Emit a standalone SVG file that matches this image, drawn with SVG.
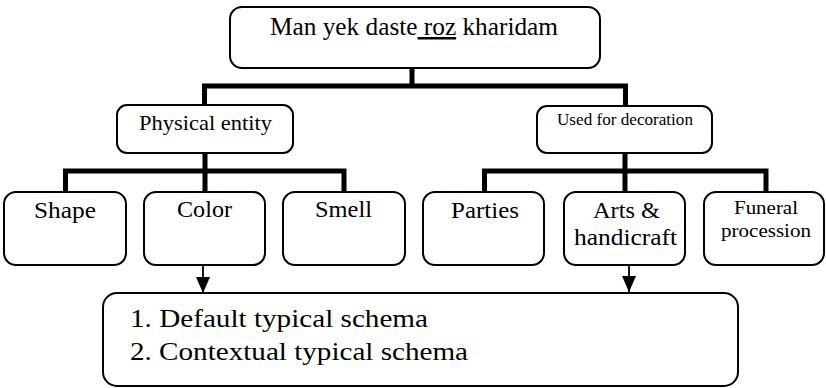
<svg xmlns="http://www.w3.org/2000/svg" width="826" height="388" viewBox="0 0 826 388">
<defs>
<marker id="arr" markerWidth="16" markerHeight="14" refX="16" refY="7" orient="auto" markerUnits="userSpaceOnUse" viewBox="0 0 16 14">
<path d="M0,0 L16,7 L0,14 Z" fill="#000"/>
</marker>
</defs>
<style>
.box{fill:#fff;stroke:#000;stroke-width:2}
.t{fill:#000;text-anchor:middle}
.bar{fill:none;stroke:#000;stroke-width:5;stroke-linejoin:miter;stroke-linecap:square}
.arrow{fill:none;stroke:#000;stroke-width:1.8}
</style>
<rect width="826" height="388" fill="#fff"/>
<g id="connectors">
<path class="bar" d="M412,68 V86 M204.5,86 H625.5 M204.5,86 V104 M625.5,86 V105"/>
<path class="bar" d="M205,153 V171 M65.5,171 H344 M65.5,171 V191 M205,171 V191 M344,171 V191"/>
<path class="bar" d="M625,153 V171 M484.5,171 H766 M484.5,171 V191 M625,171 V191 M766,171 V191"/>
<line class="arrow" x1="203" y1="265" x2="203" y2="293" marker-end="url(#arr)"/>
<line class="arrow" x1="629" y1="265" x2="629" y2="292" marker-end="url(#arr)"/>
</g>
<g font-family="'Liberation Serif', Tinos, 'Times New Roman', serif">
<g id="top">
<rect class="box" x="230" y="7" width="370" height="61" rx="12"/>
<text class="t" x="414" y="35" font-size="25" textLength="288" lengthAdjust="spacingAndGlyphs">Man yek daste<tspan text-decoration="underline"> roz</tspan> kharidam</text>
</g>
<g id="physical">
<rect class="box" x="117" y="105" width="176" height="48" rx="10"/>
<text class="t" x="205.5" y="130" font-size="22" textLength="133" lengthAdjust="spacingAndGlyphs">Physical entity</text>
</g>
<g id="decoration">
<rect class="box" x="537" y="106" width="175" height="47" rx="10"/>
<text class="t" x="625" y="125" font-size="17" textLength="136" lengthAdjust="spacingAndGlyphs">Used for decoration</text>
</g>
<g id="shape">
<rect class="box" x="4" y="192" width="122" height="73" rx="12"/>
<text class="t" x="65" y="218" font-size="23" textLength="62" lengthAdjust="spacingAndGlyphs">Shape</text>
</g>
<g id="color">
<rect class="box" x="144" y="192" width="121" height="73" rx="12"/>
<text class="t" x="204.5" y="217" font-size="23" textLength="55" lengthAdjust="spacingAndGlyphs">Color</text>
</g>
<g id="smell">
<rect class="box" x="283" y="192" width="122" height="73" rx="12"/>
<text class="t" x="343.5" y="217" font-size="23" textLength="57" lengthAdjust="spacingAndGlyphs">Smell</text>
</g>
<g id="parties">
<rect class="box" x="423" y="192" width="121" height="73" rx="12"/>
<text class="t" x="485" y="218" font-size="23" textLength="68" lengthAdjust="spacingAndGlyphs">Parties</text>
</g>
<g id="arts">
<rect class="box" x="564" y="192" width="121" height="73" rx="12"/>
<text class="t" x="626.5" y="218" font-size="23" textLength="67" lengthAdjust="spacingAndGlyphs">Arts &amp;</text>
<text class="t" x="625.5" y="245" font-size="23" textLength="103" lengthAdjust="spacingAndGlyphs">handicraft</text>
</g>
<g id="funeral">
<rect class="box" x="704" y="192" width="120" height="73" rx="12"/>
<text class="t" x="766" y="214" font-size="19" textLength="64" lengthAdjust="spacingAndGlyphs">Funeral</text>
<text class="t" x="766" y="237" font-size="19" textLength="90" lengthAdjust="spacingAndGlyphs">procession</text>
</g>
<g id="schema">
<rect class="box" x="103" y="293" width="635" height="93" rx="14"/>
<text class="t" x="130" y="327" font-size="26" style="text-anchor:start" textLength="298" lengthAdjust="spacingAndGlyphs">1. Default typical schema</text>
<text class="t" x="130" y="360" font-size="26" style="text-anchor:start" textLength="338" lengthAdjust="spacingAndGlyphs">2. Contextual typical schema</text>
</g>
</g>
</svg>
